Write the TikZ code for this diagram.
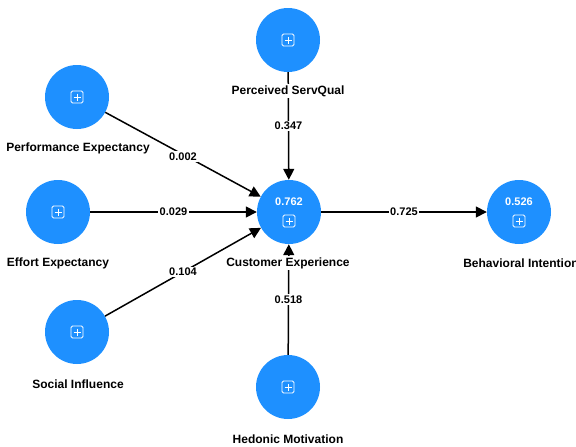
\documentclass[tikz,border=0pt]{standalone}
\usepackage{fontspec}
\setmainfont{Liberation Sans}
\usetikzlibrary{arrows.meta}
\definecolor{lvblue}{RGB}{30,144,255}
\tikzset{
  construct/.style={circle, fill=lvblue, minimum size=64pt, inner sep=0pt},
  lbl/.style={font=\fontsize{12}{14}\selectfont\bfseries, fill=white, inner sep=1pt},
  coef/.style={font=\fontsize{11}{13}\selectfont\bfseries, fill=white, inner sep=1.5pt},
  link/.style={line width=1.5pt, -{Triangle[length=11pt,width=11pt]}},
  rsq/.style={text=white, font=\fontsize{11}{13}\selectfont\bfseries, inner sep=0pt},
  icon/.style={white, line width=0.8pt},
}
\newcommand\expandicon[1]{%
  \begin{scope}[shift={(#1)}]
    \draw[icon, rounded corners=1.5pt] (-6,-6) rectangle (6,6);
    \draw[icon] (-3.5,0) -- (3.5,0) (0,-3.5) -- (0,3.5);
  \end{scope}}
\begin{document}
\begin{tikzpicture}[x=1pt, y=-1pt]
  \useasboundingbox (0,0) rectangle (576,447);
  % constructs
  \node[construct] (pe) at (77,97) {};
  \node[construct] (ee) at (58,212) {};
  \node[construct] (si) at (77,332) {};
  \node[construct] (psq) at (288,40) {};
  \node[construct] (ce) at (289,212) {};
  \node[construct] (hm) at (288,387) {};
  \node[construct] (bi) at (519,212) {};
  % paths
  \draw[link] (pe) -- node[coef, pos=0.5, yshift=-2pt] {0.002} (ce);
  \draw[link] (ee) -- node[coef, pos=0.5] {0.029} (ce);
  \draw[link] (si) -- node[coef, pos=0.5] {0.104} (ce);
  \draw[link] (psq) -- node[coef, pos=0.5] {0.347} (ce);
  \draw[link] (hm) -- node[coef, pos=0.5] {0.518} (ce);
  \draw[link] (ce) -- node[coef, pos=0.5] {0.725} (bi);
  % icons and values
  \coordinate (pei) at (77,97);   \expandicon{pei}
  \coordinate (eei) at (58,212);  \expandicon{eei}
  \coordinate (sii) at (77,332);  \expandicon{sii}
  \coordinate (psqi) at (288,40); \expandicon{psqi}
  \coordinate (hmi) at (288,387); \expandicon{hmi}
  \coordinate (cei) at (289,221); \expandicon{cei}
  \coordinate (bii) at (519,221); \expandicon{bii}
  \node[rsq] (cev) at (289,202) {0.762};
  \node[rsq] (biv) at (519,202) {0.526};
  % labels
  \node[lbl] (pel) at (78,148) {Performance Expectancy};
  \node[lbl] (eel) at (58,263) {Effort Expectancy};
  \node[lbl] (sil) at (78,384) {Social Influence};
  \node[lbl] (psql) at (288,91) {Perceived ServQual};
  \node[lbl] (cel) at (288,263) {Customer Experience};
  \node[lbl] (hml) at (288,439) {Hedonic Motivation};
  \node[lbl] (bil) at (521,263) {Behavioral Intention};
\end{tikzpicture}
\end{document}
